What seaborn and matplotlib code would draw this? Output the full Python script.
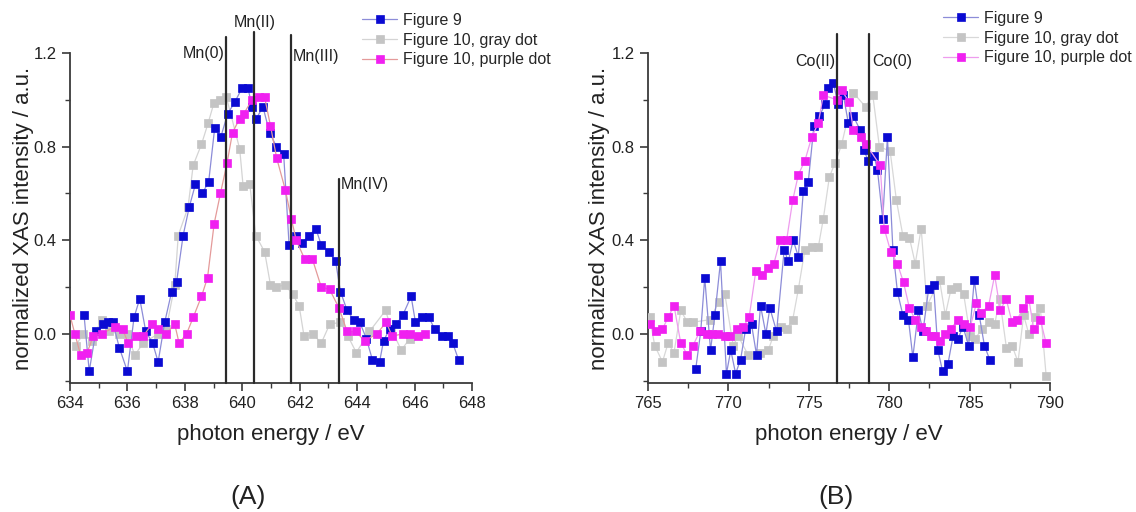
import matplotlib
matplotlib.use("Agg")
import matplotlib.pyplot as plt
from matplotlib.ticker import MultipleLocator
import numpy as np
import pandas as pd
import seaborn as sns

# ---------------- Mn L-edge spectra (panel A) ----------------
mn_fig9_energy = [634.49, 634.67, 634.90, 635.14, 635.31, 635.49, 635.72, 636.00, 636.23, 636.43,
                  636.64, 636.88, 637.07, 637.30, 637.54, 637.71, 637.94, 638.15, 638.37, 638.61,
                  638.83, 639.04, 639.25, 639.49, 639.74, 639.99, 640.20, 640.34, 640.49, 640.72,
                  640.95, 641.19, 641.44, 641.63, 641.86, 642.09, 642.32, 642.56, 642.75, 643.02,
                  643.25, 643.42, 643.65, 643.88, 644.09, 644.32, 644.53, 644.78, 644.92, 645.13,
                  645.36, 645.59, 645.88, 646.03, 646.27, 646.50, 646.70, 646.96, 647.16, 647.33,
                  647.53]
mn_fig9_intensity = [0.08, -0.16, 0.01, 0.04, 0.05, 0.05, -0.06, -0.16, 0.07, 0.15,
                     0.01, -0.04, -0.12, 0.05, 0.18, 0.22, 0.42, 0.54, 0.64, 0.60,
                     0.65, 0.88, 0.84, 0.94, 0.99, 1.05, 1.05, 0.97, 0.92, 0.97,
                     0.86, 0.80, 0.77, 0.38, 0.42, 0.39, 0.42, 0.45, 0.38, 0.35,
                     0.31, 0.18, 0.10, 0.06, 0.05, -0.02, -0.11, -0.12, -0.03, 0.02,
                     0.04, 0.08, 0.16, 0.05, 0.07, 0.07, 0.02, -0.01, -0.01, -0.04,
                     -0.11]

mn_gray_energy = [634.20, 634.46, 634.75, 635.10, 635.37, 635.70, 635.97, 636.26, 636.55, 637.07,
                  637.35, 637.65, 637.77, 638.11, 638.29, 638.58, 638.81, 639.01, 639.22, 639.45,
                  639.91, 640.03, 640.26, 640.47, 640.78, 640.98, 641.19, 641.48, 641.75, 641.98,
                  642.15, 642.46, 642.75, 643.04, 643.42, 643.68, 643.97, 644.43, 644.99, 645.19,
                  645.54, 645.83]
mn_gray_intensity = [-0.05, 0.00, -0.03, 0.06, 0.01, 0.00, 0.00, -0.09, -0.04, 0.00,
                     0.02, 0.21, 0.42, 0.54, 0.72, 0.81, 0.90, 0.985, 1.00, 1.01,
                     0.79, 0.63, 0.64, 0.42, 0.35, 0.21, 0.20, 0.21, 0.17, 0.12,
                     -0.01, 0.00, -0.04, 0.04, 0.05, -0.01, -0.08, 0.01, 0.10, 0.02,
                     -0.07, -0.02]

mn_purple_energy = [634.00, 634.17, 634.37, 634.60, 634.81, 635.10, 635.57, 635.83, 636.03, 636.30,
                    636.55, 636.84, 637.07, 637.34, 637.65, 637.80, 638.06, 638.29, 638.58, 638.79,
                    639.02, 639.24, 639.47, 639.66, 639.91, 640.05, 640.34, 640.57, 640.78, 640.98,
                    641.20, 641.50, 641.71, 641.88, 642.17, 642.44, 642.75, 643.04, 643.37, 643.65,
                    643.95, 644.26, 644.69, 645.01, 645.22, 645.59, 645.83, 646.11, 646.35]
mn_purple_intensity = [0.08, 0.00, -0.09, -0.08, -0.01, 0.00, 0.03, 0.02, -0.04, -0.01,
                       -0.01, 0.04, 0.02, 0.00, 0.04, -0.04, 0.00, 0.07, 0.16, 0.24,
                       0.47, 0.60, 0.73, 0.86, 0.92, 0.94, 1.00, 1.01, 1.01, 0.89,
                       0.75, 0.615, 0.49, 0.40, 0.32, 0.32, 0.20, 0.19, 0.11, 0.01,
                       0.01, -0.03, 0.00, 0.05, -0.01, 0.00, 0.00, -0.01, 0.00]

mn_ref_labels = ["Mn(0)", "Mn(II)", "Mn(III)", "Mn(IV)"]
mn_ref_energy = [639.45, 640.42, 641.68, 643.37]
mn_ref_top = [1.27, 1.29, 1.275, 0.66]

# ---------------- Co L-edge spectra (panel B) ----------------
co_fig9_energy = [767.97, 768.28, 768.53, 768.89, 769.16, 769.51, 769.88, 770.15, 770.45, 770.76,
                  771.07, 771.44, 771.75, 772.00, 772.33, 772.58, 773.00, 773.47, 773.72, 774.03,
                  774.35, 774.66, 774.97, 775.32, 775.65, 776.01, 776.21, 776.53, 776.84, 777.15,
                  777.46, 777.77, 778.20, 778.42, 778.70, 779.06, 779.27, 779.60, 779.89, 780.23,
                  780.51, 780.85, 781.20, 781.47, 781.82, 782.10, 782.45, 782.76, 783.03, 783.32,
                  783.65, 783.97, 784.28, 784.59, 784.94, 785.29, 785.60, 785.92, 786.25]
co_fig9_intensity = [-0.15, 0.01, 0.24, -0.07, 0.08, 0.31, -0.17, -0.07, -0.17, -0.11,
                     0.02, 0.04, -0.09, 0.12, 0.00, 0.11, 0.01, 0.36, 0.31, 0.40,
                     0.33, 0.61, 0.65, 0.89, 0.93, 0.98, 1.05, 1.07, 0.98, 1.02,
                     0.90, 0.93, 0.87, 0.785, 0.74, 0.76, 0.70, 0.49, 0.84, 0.36,
                     0.18, 0.08, 0.06, -0.10, 0.10, 0.01, 0.19, 0.21, -0.07, -0.16,
                     -0.13, -0.01, -0.02, 0.03, -0.05, 0.23, 0.08, -0.05, -0.11]

co_gray_energy = [765.10, 765.42, 765.90, 766.25, 766.62, 767.04, 767.45, 767.80, 768.84, 769.40,
                  769.78, 770.30, 770.61, 771.23, 771.96, 772.48, 772.79, 773.25, 773.62, 774.00,
                  774.35, 774.76, 775.18, 775.59, 775.90, 776.28, 776.63, 777.05, 777.77, 778.53,
                  778.98, 779.39, 780.06, 780.45, 780.85, 781.26, 781.62, 781.99, 782.35, 783.13,
                  783.49, 783.84, 784.21, 784.63, 785.04, 785.35, 785.77, 786.18, 786.56, 786.87,
                  787.29, 787.64, 788.01, 788.36, 788.68, 789.05, 789.40, 789.76]
co_gray_intensity = [0.07, -0.05, -0.12, -0.04, -0.08, 0.10, 0.05, 0.05, 0.06, 0.135,
                     0.17, -0.05, -0.01, -0.09, -0.08, -0.07, -0.01, 0.03, 0.02, 0.06,
                     0.19, 0.36, 0.37, 0.37, 0.49, 0.67, 0.73, 0.81, 1.03, 0.97,
                     1.02, 0.80, 0.78, 0.57, 0.42, 0.41, 0.30, 0.45, 0.12, 0.23,
                     0.08, 0.19, 0.20, 0.17, -0.01, -0.02, 0.02, 0.05, 0.04, 0.15,
                     -0.06, -0.05, -0.12, 0.08, 0.00, 0.07, 0.11, -0.18]

co_purple_energy = [765.10, 765.48, 765.90, 766.25, 766.62, 767.04, 767.45, 767.80, 768.22, 768.68,
                    769.01, 769.36, 769.78, 770.13, 770.51, 770.92, 771.29, 771.71, 772.07, 772.48,
                    772.83, 773.21, 773.62, 774.00, 774.35, 774.76, 775.18, 775.59, 775.90, 776.74,
                    777.05, 777.52, 777.77, 778.23, 778.56, 779.44, 779.69, 780.10, 780.51, 780.89,
                    781.26, 781.62, 781.97, 782.30, 782.61, 782.86, 783.17, 783.49, 783.84, 784.25,
                    784.63, 785.04, 785.42, 785.73, 786.18, 786.56, 786.91, 787.27, 787.64, 787.95,
                    788.33, 788.68, 788.99, 789.40, 789.76]
co_purple_intensity = [0.04, 0.01, 0.02, 0.07, 0.12, -0.04, -0.09, -0.05, 0.01, 0.00,
                       0.00, 0.00, -0.01, -0.01, 0.02, 0.03, 0.07, 0.27, 0.25, 0.28,
                       0.30, 0.40, 0.40, 0.57, 0.68, 0.74, 0.84, 0.90, 1.02, 1.00,
                       1.04, 0.99, 0.87, 0.84, 0.81, 0.72, 0.45, 0.35, 0.30, 0.22,
                       0.11, 0.06, 0.03, 0.01, -0.01, -0.01, -0.03, 0.00, 0.02, 0.06,
                       0.04, 0.03, 0.13, 0.09, 0.12, 0.25, 0.10, 0.15, 0.05, 0.06,
                       0.11, 0.15, 0.02, 0.06, -0.04]

co_ref_labels = ["Co(II)", "Co(0)"]
co_ref_energy = [776.78, 778.77]
co_ref_top = [1.28, 1.28]

series_names = ["Figure 9", "Figure 10, gray dot", "Figure 10, purple dot"]

# ---------------- styling ----------------
sns.set_theme(style="ticks")
plt.rcParams["font.family"] = ["Liberation Sans", "DejaVu Sans"]
plt.rcParams["axes.linewidth"] = 1.3
AX_COL = "#3a3a3a"

marker_cols = {"Figure 9": "#0a0ad2", "Figure 10, gray dot": "#c4c4c4",
               "Figure 10, purple dot": "#f020f0"}
line_cols_a = {"Figure 9": "#8c8cd8", "Figure 10, gray dot": "#d4d4d4",
               "Figure 10, purple dot": "#e49a9a"}
line_cols_b = {"Figure 9": "#8c8cd8", "Figure 10, gray dot": "#d8d8d8",
               "Figure 10, purple dot": "#ee9cee"}

fig = plt.figure(figsize=(11.36, 5.12), dpi=100)
ax_a = fig.add_axes([0.0616, 0.252, 0.3539, 0.6445])
ax_b = fig.add_axes([0.5704, 0.252, 0.3539, 0.6445])


def make_frame(e9, i9, eg, ig, ep, ip):
    parts = []
    for name, e, i in zip(series_names, (e9, eg, ep), (i9, ig, ip)):
        parts.append(pd.DataFrame({"energy": e, "intensity": i, "series": name}))
    return pd.concat(parts, ignore_index=True)


def draw_panel(ax, df, line_cols, xlim, xmajor, xminor, ypad):
    # gray underneath, then blue, then purple on top
    order = ["Figure 10, gray dot", "Figure 9", "Figure 10, purple dot"]
    handles = {}
    for z, name in enumerate(order):
        sub = df[df["series"] == name]
        sns.lineplot(data=sub, x="energy", y="intensity", ax=ax, sort=False,
                     color=line_cols[name], linewidth=0.9, marker="s",
                     markersize=6.4, markerfacecolor=marker_cols[name],
                     markeredgecolor=marker_cols[name], markeredgewidth=0.5,
                     label=name, zorder=3 + z, legend=False)
        handles[name] = ax.get_lines()[-1]
    ax.set_xlim(*xlim)
    ax.set_ylim(-0.21, 1.2)
    ax.xaxis.set_major_locator(MultipleLocator(xmajor))
    ax.xaxis.set_minor_locator(MultipleLocator(xminor))
    ax.yaxis.set_major_locator(MultipleLocator(0.4))
    ax.yaxis.set_minor_locator(MultipleLocator(0.2))
    ax.yaxis.set_major_formatter(plt.FuncFormatter(lambda v, p: f"{v:.1f}"))
    for side in ("top", "right"):
        ax.spines[side].set_visible(False)
    for side in ("left", "bottom"):
        ax.spines[side].set_color(AX_COL)
    ax.tick_params(which="major", direction="out", length=6, width=1.2,
                   colors=AX_COL, labelcolor="#222222", labelsize=12)
    ax.tick_params(which="minor", direction="out", length=3.5, width=1.0, colors=AX_COL)
    ax.set_xlabel("photon energy / eV", fontsize=16, color="#222222", labelpad=9)
    ax.set_ylabel("normalized XAS intensity / a.u.", fontsize=16, color="#222222", labelpad=ypad)
    return [handles[n] for n in series_names]


df_a = make_frame(mn_fig9_energy, mn_fig9_intensity, mn_gray_energy, mn_gray_intensity,
                  mn_purple_energy, mn_purple_intensity)
df_b = make_frame(co_fig9_energy, co_fig9_intensity, co_gray_energy, co_gray_intensity,
                  co_purple_energy, co_purple_intensity)

h_a = draw_panel(ax_a, df_a, line_cols_a, (634, 648), 2, 1, 0)
h_b = draw_panel(ax_b, df_b, line_cols_b, (765, 790), 5, 2.5, 1)

# oxidation-state reference lines
for e, top in zip(mn_ref_energy, mn_ref_top):
    ax_a.plot([e, e], [-0.21, top], color="#2a2a2a", linewidth=1.6, clip_on=False, zorder=10)
for e, top in zip(co_ref_energy, co_ref_top):
    ax_b.plot([e, e], [-0.21, top], color="#2a2a2a", linewidth=1.6, clip_on=False, zorder=10)

lab_kw = dict(fontsize=11.5, color="#222222", va="center", clip_on=False)
ax_a.text(mn_ref_energy[0] - 0.05, 1.196, mn_ref_labels[0], ha="right", **lab_kw)
ax_a.text(mn_ref_energy[1], 1.33, mn_ref_labels[1], ha="center", **lab_kw)
ax_a.text(mn_ref_energy[2] + 0.08, 1.183, mn_ref_labels[2], ha="left", **lab_kw)
ax_a.text(mn_ref_energy[3] + 0.05, 0.639, mn_ref_labels[3], ha="left", **lab_kw)
ax_b.text(co_ref_energy[0] - 0.1, 1.164, co_ref_labels[0], ha="right", **lab_kw)
ax_b.text(co_ref_energy[1] + 0.15, 1.164, co_ref_labels[1], ha="left", **lab_kw)

leg_kw = dict(loc="center left", frameon=False, fontsize=11.5, borderpad=0,
              borderaxespad=0, handlelength=2.2, handletextpad=0.35,
              labelspacing=0.3, bbox_transform=fig.transFigure)
ax_a.legend(h_a, series_names, bbox_to_anchor=(362 / 1136, 1 - 40 / 512), **leg_kw)
ax_b.legend(h_b, series_names, bbox_to_anchor=(943 / 1136, 1 - 38 / 512), **leg_kw)

fig.text(248 / 1136, 1 - 497 / 512, "(A)", fontsize=19, ha="center", va="center", color="#222222")
fig.text(836 / 1136, 1 - 497 / 512, "(B)", fontsize=19, ha="center", va="center", color="#222222")

fig.savefig("out.png", dpi=100, facecolor="white")
